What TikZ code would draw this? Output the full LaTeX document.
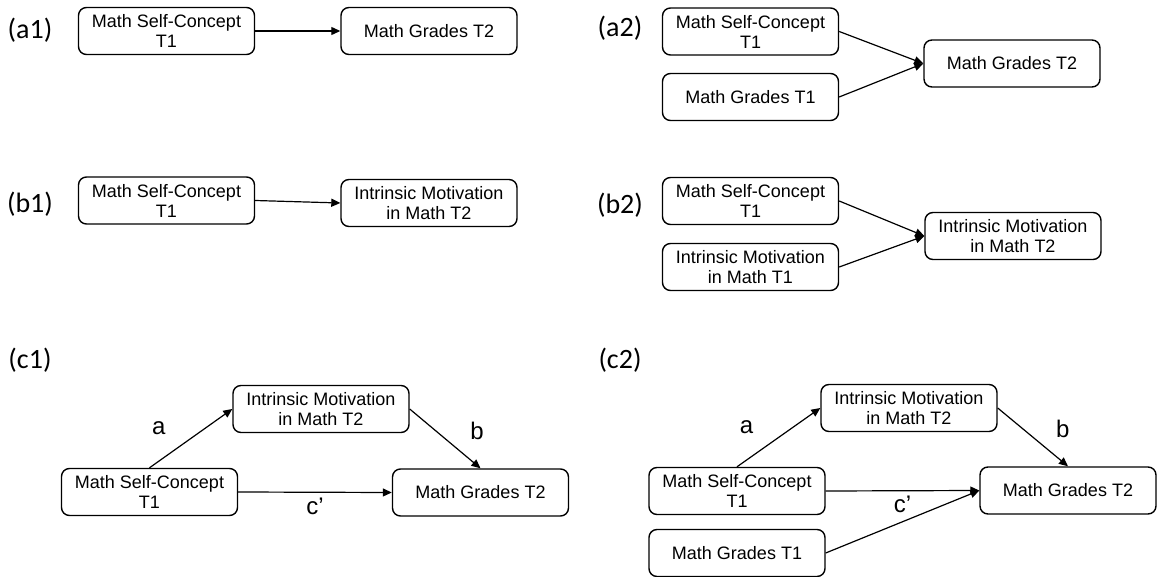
\documentclass[tikz,border=0pt]{standalone}
\usepackage{fontspec}
\setmainfont{Liberation Sans}
\newfontfamily\panelfont{Carlito}
\usetikzlibrary{arrows.meta}

\tikzset{
  varbox/.style={draw, rounded corners=4pt, line width=0.7pt,
    minimum width=88pt, minimum height=23.5pt, inner sep=1pt,
    align=center, font=\fontsize{9}{10}\selectfont},
  effect/.style={-{Triangle[length=4.5pt,width=4pt]}, line width=0.6pt},
  panel/.style={font=\panelfont\fontsize{14}{16}\selectfont},
  coef/.style={font=\fontsize{12}{14}\selectfont, inner sep=0pt}
}

\begin{document}
\begin{tikzpicture}[x=0.5pt,y=-0.5pt]
\useasboundingbox (0,0) rectangle (1157,577);

% Panel labels
\node[panel] (La1) at (30,30) {(a1)};
\node[panel] (La2) at (620,28) {(a2)};
\node[panel] (Lb1) at (30,204) {(b1)};
\node[panel] (Lb2) at (620,205) {(b2)};
\node[panel] (Lc1) at (30,360) {(c1)};
\node[panel] (Lc2) at (620,360) {(c2)};

% (a1) self-concept predicts grades
\node[varbox] (SCa1) at (166.5,31) {Math Self-Concept\\T1};
\node[varbox] (MGa1) at (429,31) {Math Grades T2};
\draw[effect] (SCa1) -- (MGa1);

% (a2) same, controlling for prior grades
\node[varbox] (SCa2) at (750.5,31.5) {Math Self-Concept\\T1};
\node[varbox] (PGa2) at (750.5,97) {Math Grades T1};
\node[varbox] (MGa2) at (1012,63.5) {Math Grades T2};
\draw[effect] (SCa2.east) -- (MGa2.west);
\draw[effect] (PGa2.east) -- (MGa2.west);

% (b1) self-concept predicts motivation
\node[varbox] (SCb1) at (166.5,200.5) {Math Self-Concept\\T1};
\node[varbox] (IMb1) at (429,203) {Intrinsic Motivation\\in Math T2};
\draw[effect] (SCb1.east) -- (IMb1.west);

% (b2) same, controlling for prior motivation
\node[varbox] (SCb2) at (750.5,201) {Math Self-Concept\\T1};
\node[varbox] (PMb2) at (750.5,267) {Intrinsic Motivation\\in Math T1};
\node[varbox] (IMb2) at (1013,236) {Intrinsic Motivation\\in Math T2};
\draw[effect] (SCb2.east) -- (IMb2.west);
\draw[effect] (PMb2.east) -- (IMb2.west);

% (c1) mediation through motivation
\node[varbox] (IMc1) at (321,409) {Intrinsic Motivation\\in Math T2};
\node[varbox] (SCc1) at (149.5,492) {Math Self-Concept\\T1};
\node[varbox] (MGc1) at (480.5,492.5) {Math Grades T2};
\draw[effect] (SCc1.north) -- node[coef, shift={(-16pt,5pt)}] {a} (IMc1.west);
\draw[effect] (IMc1.east) -- node[coef, shift={(16pt,4pt)}] {b} (MGc1.north);
\draw[effect] (SCc1.east) -- node[coef, shift={(0pt,-7pt)}] {c'} (MGc1.west);

% (c2) mediation, controlling for prior grades
\node[varbox] (IMc2) at (909,408) {Intrinsic Motivation\\in Math T2};
\node[varbox] (SCc2) at (737,491) {Math Self-Concept\\T1};
\node[varbox] (PGc2) at (737,553) {Math Grades T1};
\node[varbox] (MGc2) at (1068,490.5) {Math Grades T2};
\draw[effect] (SCc2.north) -- node[coef, shift={(-16pt,5pt)}] {a} (IMc2.west);
\draw[effect] (IMc2.east) -- node[coef, shift={(15pt,4pt)}] {b} (MGc2.north);
\draw[effect] (SCc2.east) -- node[coef, shift={(0pt,-7pt)}] {c'} (MGc2.west);
\draw[effect] (PGc2.east) -- (MGc2.west);

\end{tikzpicture}
\end{document}
